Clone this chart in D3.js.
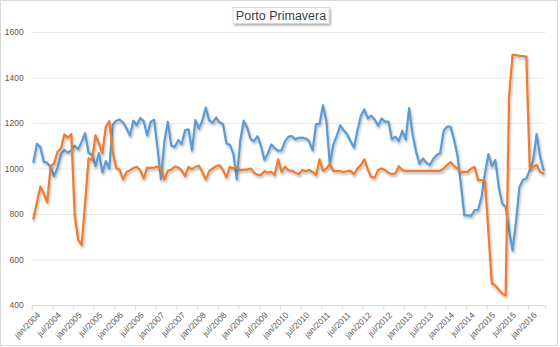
<!DOCTYPE html>
<html>
<head>
<meta charset="utf-8">
<script src="https://cdn.jsdelivr.net/npm/d3@7"></script>
<style>
  html, body { margin: 0; padding: 0; background: #fff; }
  svg { display: block; font-family: "Liberation Sans", Arial, sans-serif; }
</style>
</head>
<body>
<svg id="chart" width="560" height="347"></svg>
<script>
// ---- DATA ----
const title = "Porto Primavera";
const monthNames = ["jan","fev","mar","abr","mai","jun","jul","ago","set","out","nov","dez"];
const startYear = 2004;
const nMonths = 149; // jan/2004 .. mai/2016
const categories = d3.range(nMonths).map(i => monthNames[i % 12] + "/" + (startYear + Math.floor(i / 12)));

const yTicks = [400, 600, 800, 1000, 1200, 1400, 1600];
const xTickLabels = ["jan/2004","jul/2004","jan/2005","jul/2005","jan/2006","jul/2006","jan/2007","jul/2007",
  "jan/2008","jul/2008","jan/2009","jul/2009","jan/2010","jul/2010","jan/2011","jul/2011","jan/2012","jul/2012",
  "jan/2013","jul/2013","jan/2014","jul/2014","jan/2015","jul/2015","jan/2016"];

const seriesBlue = [
  1029,1108,1095,1030,1025,1005,965,1005,1062,1082,1070,1080,
  1100,1085,1118,1155,1068,1062,1010,1068,982,1032,1000,1192,
  1210,1215,1202,1178,1145,1210,1190,1222,1208,1145,1205,1215,
  1090,952,1120,1205,1100,1095,1125,1108,1168,1172,1080,1213,
  1175,1211,1268,1211,1202,1224,1203,1196,1110,1104,1065,952,
  1122,1210,1180,1130,1120,1142,1100,1038,1065,1105,1090,1078,
  1080,1120,1140,1142,1128,1135,1136,1132,1120,1080,1195,1195,
  1278,1208,1015,1105,1143,1190,1168,1150,1120,1092,1168,1232,
  1260,1220,1232,1215,1188,1220,1206,1206,1128,1140,1120,1166,
  1127,1265,1150,1075,1020,1044,1025,1015,1042,1059,1068,1165,
  1184,1184,1128,1059,934,794,794,792,817,817,875,978,
  1063,1010,1037,919,846,831,728,640,765,919,949,956,
  993,1037,1151,1051,993
];
const seriesOrange = [
  780,850,920,890,851,1010,1022,1073,1088,1150,1135,1151,
  790,688,663,850,1044,1037,1146,1110,1066,1183,1208,1075,
  1002,995,952,985,992,1002,1008,992,956,1004,1003,1004,
  1008,1000,951,990,995,1008,1005,992,966,1007,997,1007,
  1012,985,952,988,1000,1010,1015,993,962,1007,1000,1007,
  992,995,995,1000,982,972,972,988,982,985,972,1040,
  985,1008,992,990,981,975,993,988,993,985,970,1040,
  990,1000,1019,990,988,988,985,988,990,975,1000,1015,
  1040,996,963,960,993,1000,993,982,975,978,1010,993,
  990,990,990,990,990,990,990,990,990,990,990,1000,
  1015,1028,1012,1000,985,985,985,1000,1007,949,949,946,
  720,494,486,467,450,442,1316,1499,1499,1495,1494,1492,
  1000,1007,1015,985,978
];
const colors = { blue: "#5B9BD5", orange: "#ED7D31" };

// ---- LAYOUT ----
const svg = d3.select("#chart");
const W = 560, H = 347;
const plot = { left: 31.7, right: 545.3, top: 32, bottom: 305 };

// outer chart border
svg.append("rect").attr("x", 0.5).attr("y", 0.5).attr("width", W - 3).attr("height", H - 2)
  .attr("fill", "#fff").attr("stroke", "#d9d9d9");

const defs = svg.append("defs");
const f = defs.append("filter").attr("id", "shadow").attr("x", "-5%").attr("y", "-5%").attr("width", "110%").attr("height", "115%");
f.append("feDropShadow").attr("dx", 1).attr("dy", 2).attr("stdDeviation", 1)
  .attr("flood-color", "#000").attr("flood-opacity", 0.28);
const f2 = defs.append("filter").attr("id", "boxshadow").attr("x", "-10%").attr("y", "-30%").attr("width", "120%").attr("height", "170%");
f2.append("feDropShadow").attr("dx", 1.5).attr("dy", 1.5).attr("stdDeviation", 1)
  .attr("flood-color", "#000").attr("flood-opacity", 0.35);

// scales
const x = d3.scaleLinear().domain([0, nMonths]).range([plot.left, plot.right]);
const y = d3.scaleLinear().domain([400, 1600]).range([plot.bottom, plot.top]);

// y grid + labels
const yAxis = svg.append("g").attr("transform", `translate(${plot.left},0)`)
  .call(d3.axisLeft(y).tickValues(yTicks).tickSize(-(plot.right - plot.left)).tickPadding(8).tickFormat(d3.format("d")));
yAxis.select(".domain").remove();
yAxis.selectAll(".tick line").attr("stroke", "#e8e8e8").attr("stroke-width", 1);
yAxis.selectAll(".tick text").attr("fill", "#595959").attr("font-size", "8.5px");

// x axis
const tickIdx = xTickLabels.map((d, k) => k * 6);
const xAxis = svg.append("g").attr("transform", `translate(0,${plot.bottom})`)
  .call(d3.axisBottom(x).tickValues(tickIdx).tickSize(4).tickFormat((d, k) => xTickLabels[k]));
xAxis.select(".domain").attr("stroke", "#d9d9d9");
xAxis.selectAll(".tick line").attr("stroke", "#d9d9d9");
xAxis.selectAll(".tick text")
  .attr("fill", "#595959").attr("font-size", "8.5px")
  .attr("text-anchor", "end").attr("dy", "0.3em")
  .attr("transform", "translate(2,4) rotate(-45)");

// lines
const line = d3.line().x((d, i) => x(i + 0.5)).y(d => y(d));
[[seriesBlue, colors.blue], [seriesOrange, colors.orange]].forEach(([data, c]) => {
  svg.append("path").datum(data).attr("d", line)
    .attr("fill", "none").attr("stroke", c).attr("stroke-width", 2.25)
    .attr("stroke-linejoin", "round").attr("stroke-linecap", "round")
    .attr("filter", "url(#shadow)");
});

// title box
const tg = svg.append("g");
tg.append("rect").attr("x", 233).attr("y", 7.5).attr("width", 96).attr("height", 16)
  .attr("fill", "#fff").attr("stroke", "#d0d0d0").attr("stroke-width", 0.75).attr("filter", "url(#boxshadow)");
tg.append("text").attr("x", 281).attr("y", 20).attr("text-anchor", "middle")
  .attr("fill", "#404040").attr("font-size", "12.5px").text(title);
</script>
</body>
</html>
